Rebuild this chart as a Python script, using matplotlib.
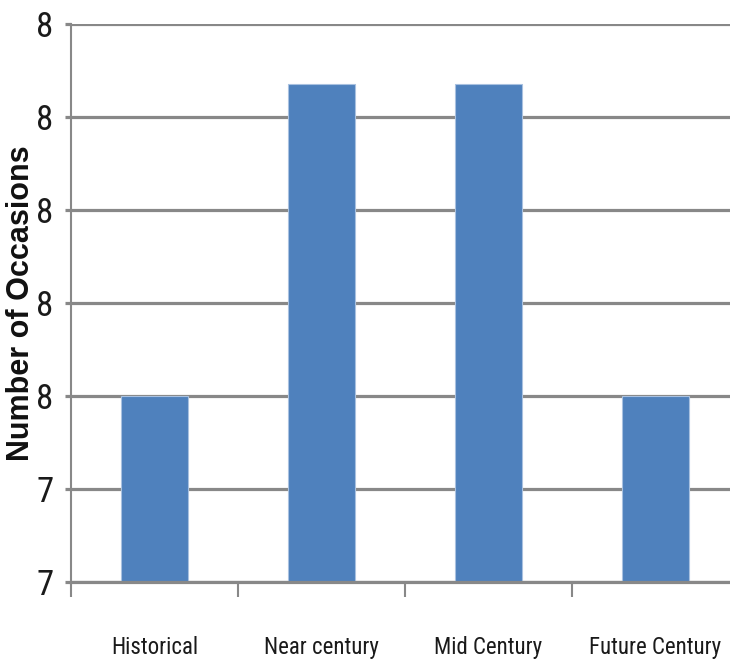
import matplotlib
matplotlib.use('Agg')
import matplotlib.pyplot as plt
import numpy as np

# Occasion counts per period
periods = ['Historical', 'Near century', 'Mid Century', 'Future Century']
occasions = [7.5, 7.835, 7.835, 7.5]

# Value axis (labels shown rounded to whole numbers)
y_ticks = [7.3, 7.4, 7.5, 7.6, 7.7, 7.8, 7.9]
y_tick_labels = ['7', '7', '8', '8', '8', '8', '8']

GRID = '#888888'
BAR = '#4f81bd'
NARROW = ['Roboto Condensed', 'DejaVu Sans Condensed', 'Liberation Sans']

W, H = 730, 665
fig = plt.figure(figsize=(W / 100, H / 100), dpi=100)
fig.patch.set_facecolor('white')
ax = fig.add_axes([71 / W, 1 - 582 / H, 668 / W, 558 / H])

x = np.arange(len(periods)) + 0.5
ax.bar(x, occasions, width=0.4, color=BAR, edgecolor='#a9c1e0',
       linewidth=0.8, zorder=3)

ax.set_xlim(0, len(periods))
ax.set_ylim(y_ticks[0], y_ticks[-1])

# y axis: thick horizontal gridlines with short outward ticks
ax.set_yticks(y_ticks)
ax.set_yticklabels(y_tick_labels, family=NARROW, fontsize=25, color='#1a1a1a')
ax.yaxis.grid(True, color=GRID, linewidth=2.3, zorder=1)
ax.tick_params(axis='y', length=4.5, width=2.3, color=GRID, pad=8)

# x axis: category labels centred, tick marks on the boundaries
ax.set_xticks(x)
ax.set_xticklabels(periods, family=NARROW, fontsize=16.5, color='#1a1a1a')
ax.tick_params(axis='x', which='major', length=0, pad=39)
ax.set_xticks(np.arange(len(periods)), minor=True)
ax.tick_params(axis='x', which='minor', length=11, width=1.5, color=GRID)

for side in ('top', 'right'):
    ax.spines[side].set_visible(False)
ax.spines['bottom'].set_color(GRID)
ax.spines['bottom'].set_linewidth(2.3)
ax.spines['bottom'].set_zorder(4)
ax.spines['left'].set_color(GRID)
ax.spines['left'].set_linewidth(1.5)

fig.text(21 / W, 1 - 303 / H, 'Number of Occasions', rotation=90,
         ha='center', va='center', family='Liberation Sans',
         fontweight='bold', fontsize=22, color='#111111')

fig.savefig('out.png', dpi=100, facecolor='white')
